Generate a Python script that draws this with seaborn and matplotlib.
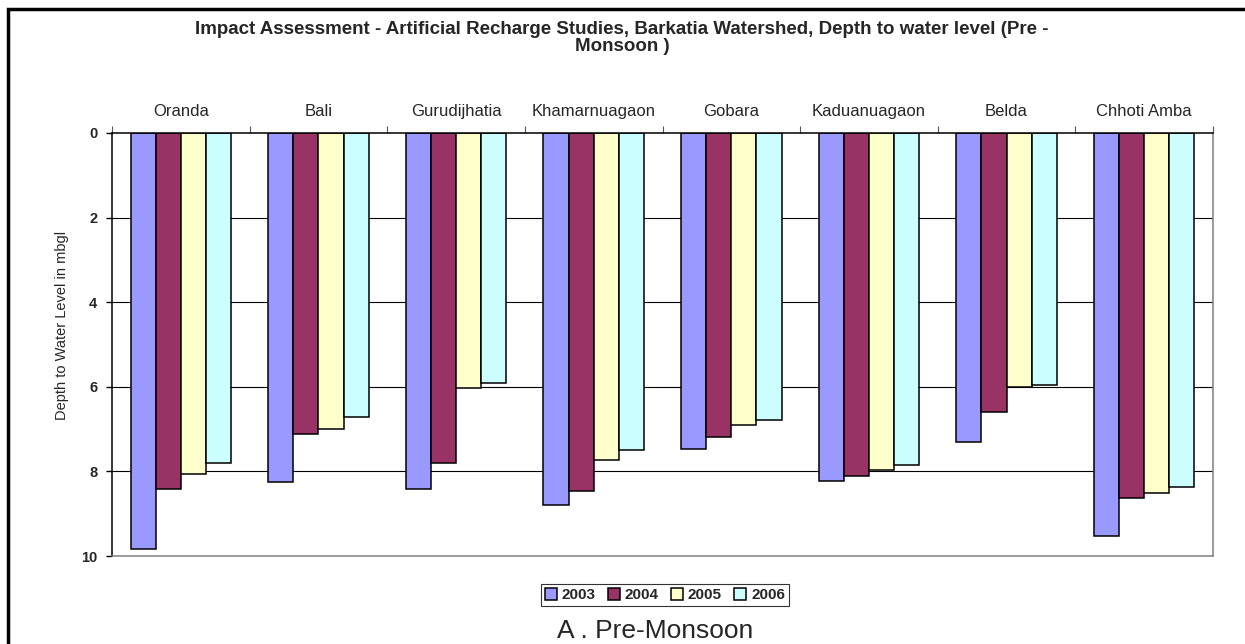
"""Pre-monsoon depth to water level, Barkatia watershed (artificial recharge impact)."""

import matplotlib.pyplot as plt
import pandas as pd
import seaborn as sns
from matplotlib.patches import Rectangle

sites = [
    "Oranda", "Bali", "Gurudijhatia", "Khamarnuagaon",
    "Gobara", "Kaduanuagaon", "Belda", "Chhoti Amba",
]
years = ["2003", "2004", "2005", "2006"]

depth_2003 = [9.84, 8.24, 8.42, 8.80, 7.48, 8.23, 7.31, 9.53]
depth_2004 = [8.42, 7.11, 7.79, 8.47, 7.19, 8.10, 6.60, 8.64]
depth_2005 = [8.05, 6.99, 6.03, 7.72, 6.90, 7.97, 6.01, 8.52]
depth_2006 = [7.81, 6.72, 5.90, 7.49, 6.78, 7.85, 5.95, 8.38]

colors = {"2003": "#9999FF", "2004": "#993366", "2005": "#FFFFCC", "2006": "#CCFFFF"}

NARROW = ["Liberation Sans Narrow", "Liberation Sans", "DejaVu Sans"]
ARIAL = ["Liberation Sans", "DejaVu Sans"]

df = pd.DataFrame({
    "site": sites * 4,
    "year": [y for y in years for _ in sites],
    "depth": depth_2003 + depth_2004 + depth_2005 + depth_2006,
})

sns.set_style("white")
plt.rcParams["font.family"] = ARIAL

W, H = 1245, 644
fig = plt.figure(figsize=(W / 100, H / 100), dpi=100)
ax = fig.add_axes([112 / W, 1 - 556 / H, (1213 - 112) / W, (556 - 133) / H])

# gridlines first so bars sit on top
for v in [2, 4, 6, 8]:
    ax.axhline(v, color="black", lw=0.8, zorder=0)

sns.barplot(
    data=df, x="site", y="depth", hue="year", order=sites, hue_order=years,
    palette=colors, width=0.73, edgecolor="black", linewidth=1.1,
    saturation=1, ax=ax, zorder=2,
)

ax.set_xlim(-0.5, len(sites) - 0.5)
ax.set_ylim(10, 0)
ax.set_yticks([0, 2, 4, 6, 8, 10])
ax.set_yticklabels(["0", "2", "4", "6", "8", "10"], fontweight="bold", fontsize=10.5)
ax.tick_params(axis="y", length=4.5, width=1, color="black", pad=6, left=True)

ax.xaxis.tick_top()
ax.set_xticks(range(len(sites)))
ax.set_xticklabels(sites, family=NARROW, fontsize=12)
ax.tick_params(axis="x", which="major", length=0, pad=10)
ax.set_xticks([i - 0.5 for i in range(len(sites) + 1)], minor=True)
ax.tick_params(axis="x", which="minor", length=5, width=0.8, color="#555555", top=True)
ax.set_xlabel("")
ax.set_ylabel("")
fig.text(62 / W, 1 - 325 / H, "Depth to Water Level in mbgl", rotation=90,
         ha="center", va="center", family=NARROW, fontsize=10.5)

for side in ["left", "top"]:
    ax.spines[side].set_color("black")
    ax.spines[side].set_linewidth(1.1)
for side in ["right", "bottom"]:
    ax.spines[side].set_color("#808080")
    ax.spines[side].set_linewidth(1.1)

handles, labels = ax.get_legend_handles_labels()
ax.legend_.remove()
leg = fig.legend(
    handles, labels, loc="center", bbox_to_anchor=(665 / W, 1 - 595 / H),
    ncol=4, frameon=True, fancybox=False, edgecolor="black", handlelength=0.8,
    handleheight=0.8, handletextpad=0.3, columnspacing=0.8, borderpad=0.25,
    prop={"family": NARROW, "weight": "bold", "size": 11},
)
leg.get_frame().set_linewidth(0.8)

fig.text(
    622 / W, 1 - 38 / H,
    "Impact Assessment - Artificial Recharge Studies, Barkatia Watershed, Depth to water level (Pre -\nMonsoon )",
    ha="center", va="center", fontsize=13.5, fontweight="bold", linespacing=1.0,
)
fig.text(655 / W, 1 - 638 / H, "A . Pre-Monsoon", ha="center", va="baseline",
         family=NARROW, fontsize=19)

# outer chart border (right/bottom edges fall outside the crop)
fig.patches.append(Rectangle((8 / W, -0.05), 1.2, 1 - 9 / H + 0.05,
                             transform=fig.transFigure, fill=False,
                             edgecolor="black", lw=2.5))

fig.savefig("out.png", dpi=100)
